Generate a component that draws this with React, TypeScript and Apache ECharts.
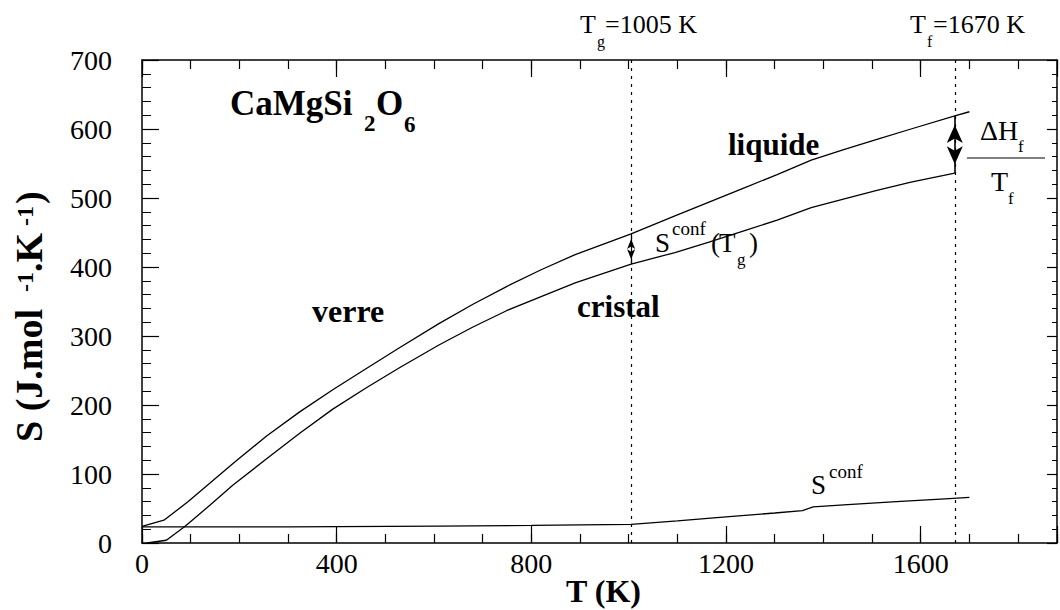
import React, { useEffect, useRef } from "react";
import * as echarts from "echarts";

// ---- data ----
const liquidGlassT = [0, 45, 95, 190, 256, 324, 392, 461, 529, 610, 680, 750, 820, 890, 1005, 1095, 1165, 1235, 1305, 1375, 1445, 1510, 1580, 1670, 1700];
const liquidGlassS = [24, 33, 60, 117, 155, 190, 222, 253, 283, 318, 346, 372, 396, 418, 448, 474, 494, 514, 534, 555, 571, 585, 600, 619, 625];

const crystalT = [10, 50, 88, 140, 187, 256, 324, 392, 461, 529, 610, 680, 750, 820, 890, 1005, 1095, 1165, 1235, 1305, 1375, 1445, 1510, 1580, 1670];
const crystalS = [0, 4, 24, 55, 84, 122, 159, 194, 225, 254, 287, 313, 337, 357, 377, 404, 421, 436, 452, 468, 486, 499, 511, 523, 536];

const sconfT = [0, 300, 610, 800, 1005, 1100, 1200, 1300, 1357, 1379, 1450, 1550, 1650, 1700];
const sconfS = [23.5, 23.5, 24.5, 25.5, 27, 32, 38, 43.5, 47, 52.5, 55.5, 60, 64, 66];

const xLabelValues = [0, 400, 800, 1200, 1600];
const Tg = 1005;
const Tf = 1670;
const sconfTgArrow = [404, 448];
const fusionArrow = [536, 619];

const FONT = '"Liberation Serif", "Times New Roman", serif';

const zip = (a: number[], b: number[]) => a.map((v, i) => [v, b[i]]);

function txt(text: string, x: number, y: number, size: number, bold = false) {
  return {
    type: "text",
    x,
    y,
    silent: true,
    style: {
      text,
      font: `${bold ? "bold " : ""}${size}px ${FONT}`,
      fill: "#000",
      textAlign: "left",
      textVerticalAlign: "middle",
    },
  };
}

export default function App() {
  const ref = useRef<HTMLDivElement>(null);

  useEffect(() => {
    if (!ref.current) return;
    const chart = echarts.init(ref.current, null, { renderer: "svg" });

    const black = { color: "#000", width: 1.2 };
    const axisLine = { show: true, onZero: false, lineStyle: { color: "#000", width: 1.5 } };
    const xCommon = {
      type: "value",
      min: 0,
      max: 1880,
      gridIndex: 0,
      splitLine: { show: false },
    };

    const curveStyle = { color: "#000", width: 1.3 };

    const option: any = {
      animation: false,
      backgroundColor: "#fff",
      grid: { left: 142, right: 3, top: 60, bottom: 67, outerBoundsMode: "none" },
      xAxis: [
        {
          ...xCommon,
          position: "bottom",
          interval: 100,
          axisLine,
          axisTick: { inside: true, length: 9, lineStyle: black },
          axisLabel: {
            formatter: (v: number) => (xLabelValues.includes(v) ? String(v) : ""),
            fontFamily: FONT,
            fontSize: 28,
            color: "#000",
            margin: 6,
          },
        },
        {
          ...xCommon,
          position: "bottom",
          interval: 400,
          axisLine: { show: false, onZero: false },
          axisTick: { inside: true, length: 17, lineStyle: black },
          axisLabel: { show: false },
        },
        {
          ...xCommon,
          position: "top",
          interval: 100,
          axisLine,
          axisTick: { inside: true, length: 9, lineStyle: black },
          axisLabel: { show: false },
        },
        {
          ...xCommon,
          position: "top",
          interval: 400,
          axisLine: { show: false, onZero: false },
          axisTick: { inside: true, length: 17, lineStyle: black },
          axisLabel: { show: false },
        },
      ],
      yAxis: [
        {
          type: "value",
          min: 0,
          max: 700,
          interval: 100,
          position: "left",
          axisLine,
          axisTick: { inside: true, length: 17, lineStyle: black },
          minorTick: { show: true, splitNumber: 5, length: 9, lineStyle: { color: "#000", width: 1 } },
          axisLabel: { fontFamily: FONT, fontSize: 28, color: "#000", margin: 30 },
          splitLine: { show: false },
          minorSplitLine: { show: false },
        },
        {
          type: "value",
          min: 0,
          max: 700,
          interval: 100,
          position: "right",
          axisLine,
          axisTick: { inside: true, length: 10, lineStyle: black },
          minorTick: { show: true, splitNumber: 5, length: 5, lineStyle: { color: "#000", width: 1 } },
          axisLabel: { show: false },
          splitLine: { show: false },
          minorSplitLine: { show: false },
        },
      ],
      series: [
        {
          type: "line",
          name: "verre / liquide",
          xAxisIndex: 0,
          yAxisIndex: 0,
          data: zip(liquidGlassT, liquidGlassS),
          symbol: "none",
          smooth: false,
          lineStyle: curveStyle,
          silent: true,
          markLine: {
            silent: true,
            symbol: ["none", "none"],
            label: { show: false },
            lineStyle: { color: "#000", width: 1.2, type: "solid" },
            emphasis: { disabled: true },
            data: [
              [
                { coord: [Tg, sconfTgArrow[0]], symbol: "arrow", symbolSize: [6, 10], symbolOffset: [0, 5] },
                { coord: [Tg, sconfTgArrow[1]], symbol: "arrow", symbolSize: [6, 10], symbolOffset: [0, 5] },
              ],
            ],
          },
        },
        {
          type: "line",
          name: "cristal",
          xAxisIndex: 0,
          yAxisIndex: 0,
          data: zip(crystalT, crystalS),
          symbol: "none",
          smooth: false,
          lineStyle: curveStyle,
          silent: true,
          markLine: {
            silent: true,
            symbol: ["none", "none"],
            label: { show: false },
            lineStyle: { color: "#000", width: 1.6, type: "solid" },
            emphasis: { disabled: true },
            data: [
              [
                { coord: [Tf, fusionArrow[0]], symbol: "arrow", symbolSize: [12, 18], symbolOffset: [0, 9] },
                { coord: [Tf, fusionArrow[1]], symbol: "arrow", symbolSize: [12, 18], symbolOffset: [0, 9] },
              ],
            ],
          },
        },
        {
          type: "line",
          name: "Sconf",
          xAxisIndex: 0,
          yAxisIndex: 0,
          data: zip(sconfT, sconfS),
          symbol: "none",
          lineStyle: curveStyle,
          silent: true,
          markLine: {
            silent: true,
            symbol: ["none", "none"],
            label: { show: false },
            lineStyle: { color: "#000", width: 1.2, type: [3, 5] },
            emphasis: { disabled: true },
            data: [{ xAxis: Tg }, { xAxis: Tf }],
          },
        },
      ],
      graphic: [
        // compound name
        txt("CaMgSi", 230, 103, 35, true),
        txt("2", 364, 123, 23, true),
        txt("O", 376, 103, 35, true),
        txt("6", 404, 124, 23, true),
        // top labels
        txt("T", 580, 24, 26),
        txt("g", 597, 41, 16),
        txt("=1005 K", 605, 24, 26),
        txt("T", 910, 24, 26),
        txt("f", 927, 41, 16),
        txt("=1670 K", 933, 24, 26),
        // phase labels
        txt("liquide", 728, 144.5, 31, true),
        txt("verre", 312, 311, 32, true),
        txt("cristal", 577, 306.5, 31, true),
        // S conf (Tg)
        txt("S", 655, 243, 27),
        txt("conf", 672, 228.5, 19),
        txt("(", 711, 243, 27),
        txt("T", 719, 243, 27),
        txt("g", 737, 259, 17),
        txt(")", 749, 243, 27),
        // S conf lower
        txt("S", 811, 485, 27),
        txt("conf", 829, 471.5, 19),
        // ΔHf / Tf
        txt("ΔH", 980, 130.5, 28),
        txt("f", 1018, 146, 17),
        {
          type: "line",
          silent: true,
          shape: { x1: 967, y1: 158, x2: 1045, y2: 158 },
          style: { stroke: "#000", lineWidth: 1.2 },
        },
        txt("T", 991, 181.5, 28),
        txt("f", 1008, 198, 17),
        // y-axis title (rotated)
        {
          type: "group",
          x: 42,
          y: 442,
          rotation: Math.PI / 2,
          children: [
            txt("S (J.mol", 0, -13, 38, true),
            txt("-1", 150, -17, 24, true),
            txt(".K", 170, -13, 38, true),
            txt("-1", 216, -17, 24, true),
            txt(")", 238, -13, 38, true),
          ],
        },
        // x-axis title
        txt("T (K)", 566, 591, 32, true),
      ],
    };

    chart.setOption(option);
    return () => chart.dispose();
  }, []);

  return (
    <div
      ref={ref}
      style={{ position: "absolute", left: 0, top: 0, width: 1060, height: 610, background: "#fff" }}
    />
  );
}
